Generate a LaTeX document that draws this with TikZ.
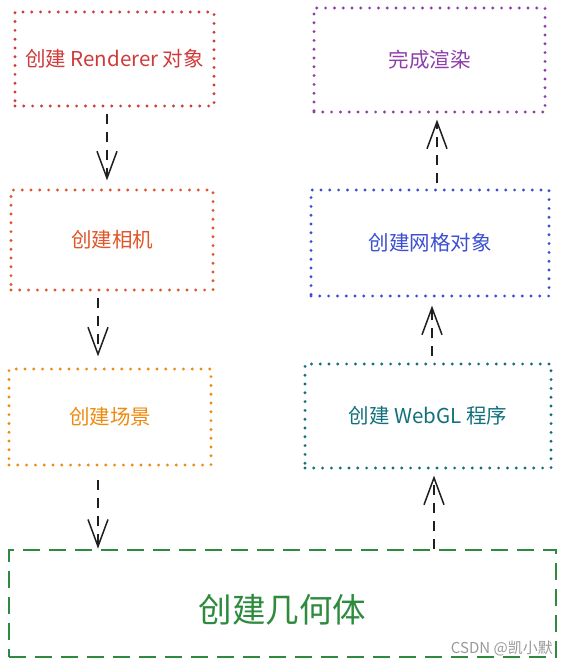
\documentclass[tikz,border=0pt]{standalone}
\usepackage{fontspec}
\setmainfont{Noto Sans CJK SC}
\usetikzlibrary{arrows.meta,calc}
\definecolor{cRed}{HTML}{D03A3A}
\definecolor{cOrR}{HTML}{E0552A}
\definecolor{cOrg}{HTML}{EE8A10}
\definecolor{cGrn}{HTML}{2E8B3E}
\definecolor{cTeal}{HTML}{12707E}
\definecolor{cBlue}{HTML}{3B4FD0}
\definecolor{cPur}{HTML}{8E3EAA}
\begin{document}
\begin{tikzpicture}[x=1pt,y=-1pt,
  dotbox/.style={draw=#1, text=#1, line width=3.2pt, line cap=round,
    dash pattern=on 0pt off 8.8pt, inner sep=0pt,
    font=\fontsize{20.5}{24}\selectfont},
  arr/.style={draw=black!88, line width=1.5pt, dash pattern=on 10pt off 8pt,
    -{Straight Barb[length=27pt,width=20pt,line width=1.5pt]}}]
\useasboundingbox (0,0) rectangle (565,666);
\fill[white] (0,0) rectangle (565,666);

\node[dotbox=cRed, minimum width=199pt, minimum height=94pt] (r) at (114.5,59) {创建 Renderer 对象};
\node[dotbox=cOrR, minimum width=202pt, minimum height=100pt] (cam) at (112,240) {创建相机};
\node[dotbox=cOrg, minimum width=202pt, minimum height=96pt] (scene) at (110,417) {创建场景};
\node[draw=cGrn, text=cGrn, line width=2.8pt, dash pattern=on 17pt off 9pt,
  minimum width=547pt, minimum height=107pt, inner sep=0pt,
  text height=37pt, text depth=0pt,
  font=\fontsize{33.5}{40}\selectfont] (geo) at (282.5,603.5) {创建几何体};
\node[dotbox=cTeal, minimum width=246pt, minimum height=104pt] (webgl) at (428,416) {创建 WebGL 程序};
\node[dotbox=cBlue, minimum width=238pt, minimum height=106pt] (mesh) at (430,243) {创建网格对象};
\node[dotbox=cPur, minimum width=231pt, minimum height=104pt] (done) at (429.5,60) {完成渲染};

\draw[arr] ([xshift=-7.5pt,yshift=-6pt]r.south) -- ([xshift=-5pt,yshift=8pt]cam.north);
\draw[arr] ([xshift=-14pt,yshift=-6pt]cam.south) -- ([xshift=-12pt,yshift=11pt]scene.north);
\draw[arr] ([xshift=-12pt,yshift=-13pt]scene.south) -- ([xshift=-12pt]scene.south |- geo.north);
\draw[arr] ([xshift=6pt]webgl.south |- geo.north) -- ([xshift=6pt,yshift=-6pt]webgl.south);
\draw[arr] ([xshift=4pt,yshift=6pt]webgl.north) -- ([xshift=2pt,yshift=-8pt]mesh.south);
\draw[arr] ([xshift=7pt,yshift=5pt]mesh.north) -- ([xshift=7.5pt,yshift=-6pt]done.south);

\node[anchor=east, text=black!40, font=\fontsize{15}{17}\selectfont, inner sep=0pt] (wm) at (553,648) {CSDN @凯小默};
\end{tikzpicture}
\end{document}
